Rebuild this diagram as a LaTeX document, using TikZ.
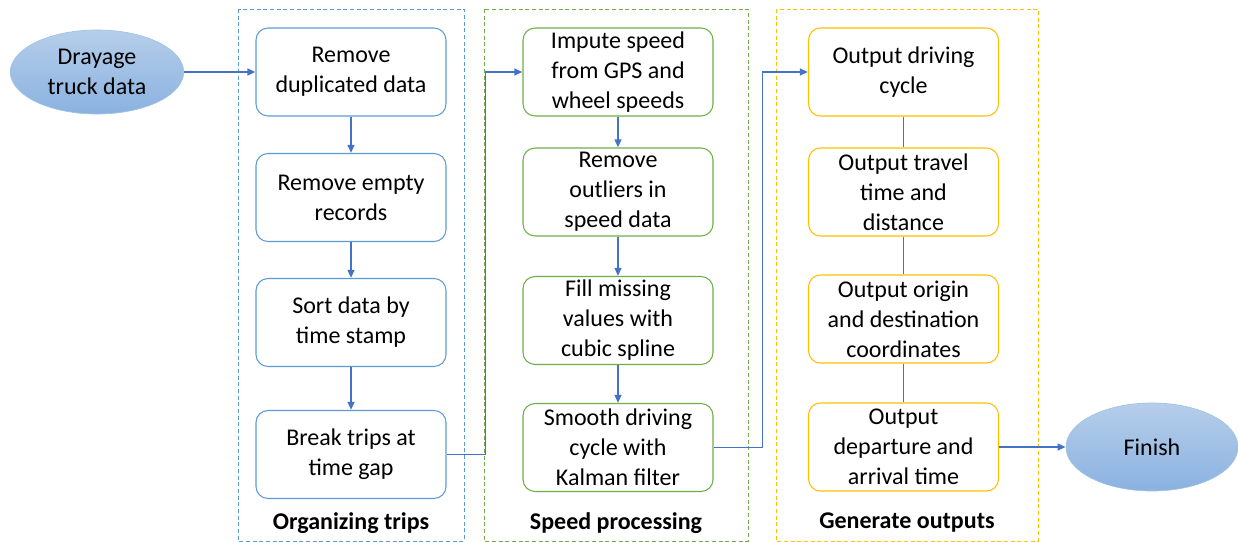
\documentclass[tikz,border=0pt]{standalone}
\usepackage{fontspec}
\setmainfont{Carlito}
\usepackage{tikz}
\usetikzlibrary{arrows.meta,shapes.geometric}

\definecolor{edgeblue}{RGB}{91,155,213}
\definecolor{edgegreen}{RGB}{112,173,71}
\definecolor{edgegold}{RGB}{255,192,0}
\definecolor{linkblue}{RGB}{68,114,196}
\definecolor{ovaltop}{RGB}{182,206,234}
\definecolor{ovalbot}{RGB}{138,178,224}

\tikzset{
  stepbox/.style={draw, rounded corners=9pt, line width=0.8pt, fill=white, align=center,
    minimum width=142.5pt, minimum height=66pt, inner sep=0pt,
    font=\fontsize{18}{22.5}\selectfont},
  oval/.style={ellipse, draw=edgeblue!60, line width=0.5pt, top color=ovaltop, bottom color=ovalbot,
    align=center, inner sep=0pt, font=\fontsize{18}{22.5}\selectfont},
  panel/.style={dash pattern=on 3pt off 2pt, line width=0.6pt},
  panellabel/.style={font=\fontsize{18}{22.5}\selectfont\bfseries},
  link/.style={draw=linkblue, line width=1.4pt, -{Triangle[length=6pt,width=5pt]}},
  plainlink/.style={draw=linkblue, line width=1.4pt}
}

\begin{document}
\begin{tikzpicture}[x=0.75pt,y=0.75pt,yscale=-1,xscale=1]
\useasboundingbox (0,0) rectangle (1238,542);

%Shape: Dashed panels
\draw [panel, edgeblue] (238,9) rectangle (464,541);
\draw [panel, edgegreen] (484,9) rectangle (748,541);
\draw [panel, edgegold] (776,9) rectangle (1038,541);

%Shape: Ellipses
\node [oval, minimum width=130pt, minimum height=63pt] (truck) at (97,72) {Drayage\\truck data};
\node [oval, minimum width=129pt, minimum height=66pt] (finish) at (1152,447) {Finish};

% Organizing trips
\node [stepbox, draw=edgeblue] (dup) at (351,72) {Remove\\duplicated data};
\node [stepbox, draw=edgeblue] (empty) at (351,197.5) {Remove empty\\records};
\node [stepbox, draw=edgeblue] (sort) at (351,322.5) {Sort data by\\time stamp};
\node [stepbox, draw=edgeblue] (brk) at (351,454.5) {Break trips at\\time gap};

% Speed processing
\node [stepbox, draw=edgegreen] (impute) at (618,72) {Impute speed\\from GPS and\\wheel speeds};
\node [stepbox, draw=edgegreen] (outl) at (618,192) {Remove\\outliers in\\speed data};
\node [stepbox, draw=edgegreen] (fill) at (618,320.5) {Fill missing\\values with\\cubic spline};
\node [stepbox, draw=edgegreen] (smooth) at (618,447.5) {Smooth driving\\cycle with\\Kalman filter};

% Generate outputs
\node [stepbox, draw=edgegold] (cyc) at (903.5,72) {Output driving\\cycle};
\node [stepbox, draw=edgegold] (trav) at (903.5,192) {Output travel\\time and\\distance};
\node [stepbox, draw=edgegold] (orig) at (903.5,319) {Output origin\\and destination\\coordinates};
\node [stepbox, draw=edgegold] (dep) at (903.5,447) {Output\\departure and\\arrival time};

% Text Node
\node [panellabel] (lblorg) at (351,523) {Organizing trips};
\node [panellabel] (lblspeed) at (616,523) {Speed processing};
\node [panellabel] (lblout) at (907,523) {Generate outputs};

%Straight Lines
\draw [link] (truck) -- (dup);
\draw [link] (dup) -- (empty);
\draw [link] (empty) -- (sort);
\draw [link] (sort) -- (brk);
\draw [link] (brk.east) -- ++(39,0) |- (impute.west);
\draw [link] (impute) -- (outl);
\draw [link] (outl) -- (fill);
\draw [link] (fill) -- (smooth);
\draw [link] (smooth.east) -- ++(49,0) |- (cyc.west);
\draw [plainlink] (cyc) -- (trav);
\draw [plainlink] (trav) -- (orig);
\draw [plainlink] (orig) -- (dep);
\draw [link] (dep) -- (finish);
\end{tikzpicture}
\end{document}
